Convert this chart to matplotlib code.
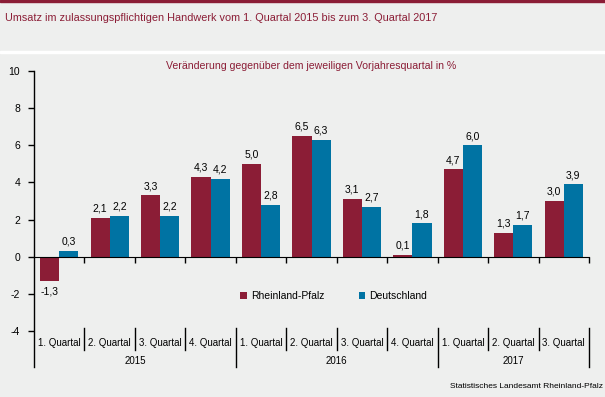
import matplotlib.pyplot as plt
import matplotlib.transforms as mtransforms
from matplotlib.patches import Rectangle
import numpy as np

plt.rcParams['font.family'] = ['Liberation Sans', 'DejaVu Sans']
plt.rcParams['axes.unicode_minus'] = False

# data
quarters = ['1. Quartal', '2. Quartal', '3. Quartal', '4. Quartal',
            '1. Quartal', '2. Quartal', '3. Quartal', '4. Quartal',
            '1. Quartal', '2. Quartal', '3. Quartal']
years = ['2015', '2016', '2017']
year_spans = [(0, 3), (4, 7), (8, 10)]
rlp = [-1.3, 2.1, 3.3, 4.3, 5.0, 6.5, 3.1, 0.1, 4.7, 1.3, 3.0]
de = [0.3, 2.2, 2.2, 4.2, 2.8, 6.3, 2.7, 1.8, 6.0, 1.7, 3.9]

c_rlp = '#8B1D36'
c_de = '#0073A3'
bg = '#EEEFEE'
dark_red = '#8B1D36'

fig = plt.figure(figsize=(6.05, 3.97), dpi=100, facecolor=bg)

# header decorations
fig.patches.append(Rectangle((0, 1 - 2 / 397), 1, 2 / 397, transform=fig.transFigure,
                             color=dark_red, zorder=0))
fig.patches.append(Rectangle((0, 1 - 53 / 397), 1, 2 / 397, transform=fig.transFigure,
                             color='white', zorder=0))
fig.text(5 / 605, 1 - 18 / 397, 'Umsatz im zulassungspflichtigen Handwerk vom 1. Quartal 2015 bis zum 3. Quartal 2017',
         color=dark_red, fontsize=7.8, va='center', ha='left')
fig.text(311 / 605, 1 - 66 / 397, 'Veränderung gegenüber dem jeweiligen Vorjahresquartal in %',
         color=dark_red, fontsize=7.6, va='center', ha='center')
fig.text(603 / 605, 1 - 387 / 397, 'Statistisches Landesamt Rheinland-Pfalz',
         color='black', fontsize=6, va='center', ha='right')

ax = fig.add_axes([34 / 605, 1 - 331 / 397, 555 / 605, 260 / 397])
ax.set_facecolor(bg)

x = np.arange(len(quarters))
w = 0.38
ax.bar(x - w / 2, rlp, w, color=c_rlp, label='Rheinland-Pfalz', zorder=2)
ax.bar(x + w / 2, de, w, color=c_de, label='Deutschland', zorder=2)

def fmt(v):
    return f'{v:.1f}'.replace('.', ',')

for xi, v in zip(x - w / 2, rlp):
    ax.annotate(fmt(v), (xi, v), xytext=(0, 3 if v >= 0 else -4), textcoords='offset points',
                ha='center', va='bottom' if v >= 0 else 'top', fontsize=7.5)
for xi, v in zip(x + w / 2, de):
    ax.annotate(fmt(v), (xi, v), xytext=(0, 3 if v >= 0 else -4), textcoords='offset points',
                ha='center', va='bottom' if v >= 0 else 'top', fontsize=7.5)

ax.set_xlim(-0.5, len(quarters) - 0.5)
ax.set_ylim(-4, 10)
ax.set_yticks(range(-4, 11, 2))
ax.tick_params(axis='y', direction='out', length=4, width=1, labelsize=7.5, pad=6)
ax.spines['right'].set_visible(False)
ax.spines['top'].set_visible(False)
ax.spines['left'].set_visible(False)
ax.spines['bottom'].set_position(('data', 0))
ax.spines['bottom'].set_zorder(3)
ax.set_xticks(np.arange(0.5, len(quarters), 1))
ax.tick_params(axis='x', direction='out', length=4, width=1, labelbottom=False)

# y axis line extending below
trans = mtransforms.blended_transform_factory(ax.transData, ax.transAxes)
ax.plot([-0.5, -0.5], [1, -0.138], transform=trans, color='black', lw=1, clip_on=False)

# category separators and labels
for i in range(1, len(quarters) + 1):
    b = i - 0.5
    long = b in (3.5, 7.5, 10.5)
    ax.plot([b, b], [0.0115, -0.138 if long else -0.073], transform=trans,
            color='black', lw=1, clip_on=False)
for xi, q in zip(x, quarters):
    ax.text(xi, -0.046, q, transform=trans, ha='center', va='center', fontsize=7)
for (a, b), yr in zip(year_spans, years):
    ax.text((a + b) / 2, -0.115, yr, transform=trans, ha='center', va='center', fontsize=7)

ax.legend(loc='center', bbox_to_anchor=(0.54, 0.135), ncol=2, frameon=False, fontsize=7.5,
          handlelength=0.6, handleheight=0.6, handletextpad=0.4, columnspacing=3.3)

fig.savefig('out.png', dpi=100, facecolor=bg)
